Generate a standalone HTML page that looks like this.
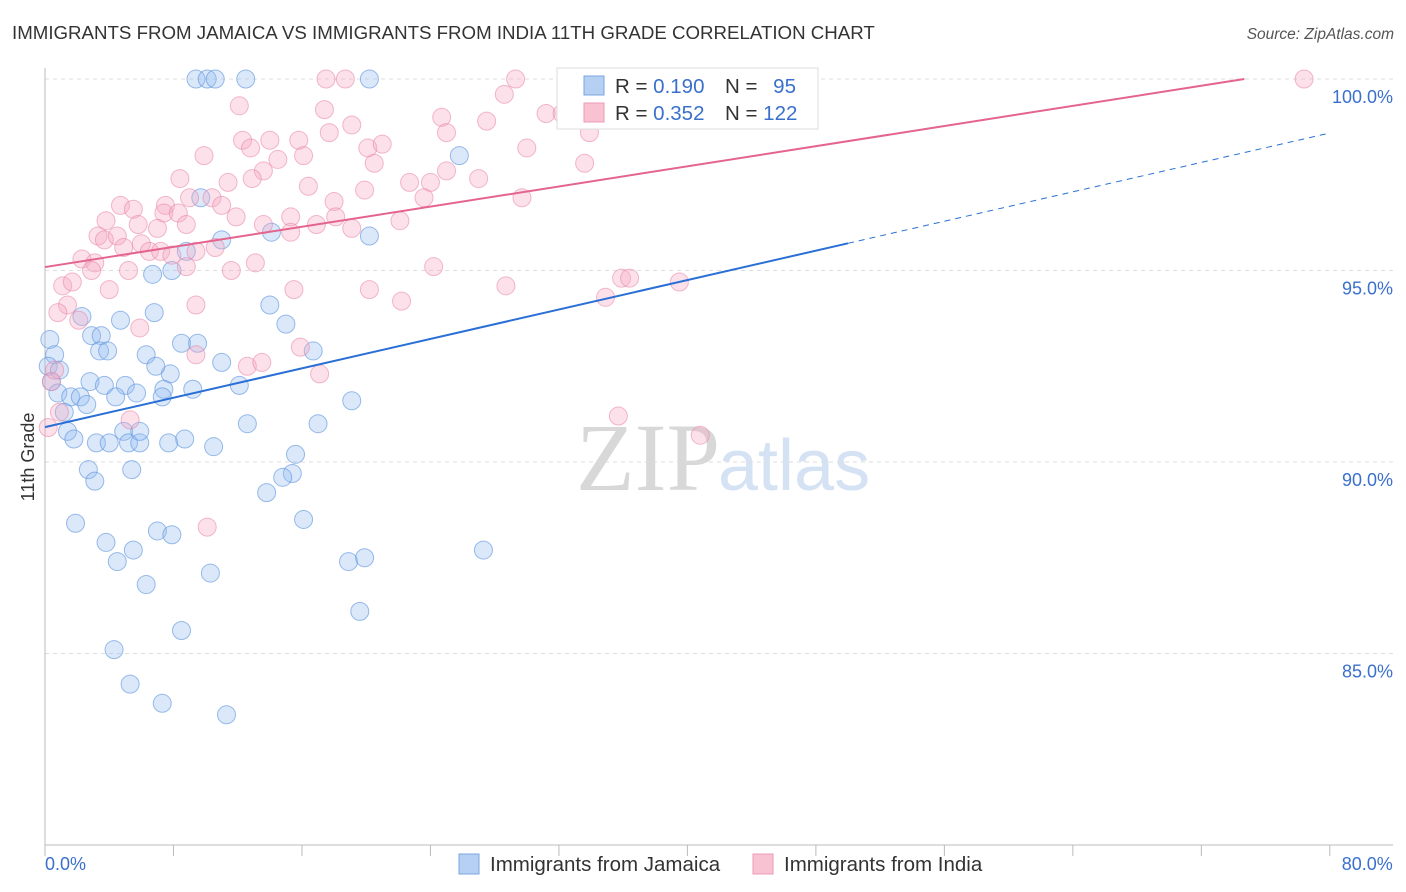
<!DOCTYPE html>
<html><head><meta charset="utf-8"><style>
body{margin:0;background:#fff;font-family:"Liberation Sans",sans-serif;}
svg{display:block}
</style></head><body>
<svg id="c" width="1406" height="892" xmlns="http://www.w3.org/2000/svg">
<text x="12" y="39" font-size="18.7" fill="#333">IMMIGRANTS FROM JAMAICA VS IMMIGRANTS FROM INDIA 11TH GRADE CORRELATION CHART</text>
<text x="1394" y="39" font-size="15.5" fill="#555" text-anchor="end" font-style="italic">Source: ZipAtlas.com</text>
<text x="720" y="490" font-size="96" fill="#d8d8d8" text-anchor="end" font-family="Liberation Serif,serif">ZIP</text>
<text x="718" y="490" font-size="72" fill="#d4e2f4">atlas</text>
<g id="grid"></g><g id="axes"></g><g id="pts"></g><g id="lines"></g>
<text x="34" y="457" font-size="18" fill="#333" text-anchor="middle" transform="rotate(-90 34 457)">11th Grade</text>
<g>
<rect x="557" y="68" width="261" height="61" fill="#fff" stroke="#ddd"/>
<rect x="584" y="76" width="20" height="19" fill="#b6d0f4" stroke="#7aa6e0"/>
<rect x="584" y="103" width="20" height="19" fill="#f8c2d2" stroke="#eb9ab4"/>
<text x="615" y="93" font-size="20.5" fill="#333">R = <tspan fill="#3a70cc">0.190</tspan></text>
<text x="725" y="93" font-size="20.5" fill="#333">N = <tspan fill="#3a70cc" dx="10">95</tspan></text>
<text x="615" y="120" font-size="20.5" fill="#333">R = <tspan fill="#3a70cc">0.352</tspan></text>
<text x="725" y="120" font-size="20.5" fill="#333">N = <tspan fill="#3a70cc">122</tspan></text>
</g>
<g>
<rect x="459" y="854" width="20" height="20" fill="#b6d0f4" stroke="#7aa6e0"/>
<text x="490" y="871" font-size="20.5" fill="#333">Immigrants from Jamaica</text>
<rect x="753" y="854" width="20" height="20" fill="#f8c2d2" stroke="#eb9ab4"/>
<text x="784" y="871" font-size="20.5" fill="#333">Immigrants from India</text>
</g>
</svg>
<script>
const blueX=[9.4,10.1,10.6,12.5,20.2,42.7,25.8,20.2,14.1,11.0,9.7,8.8,7.9,6.7,14.0,15.0,6.8,4.7,2.3,2.9,3.5,3.4,3.9,0.3,0.6,0.2,0.9,0.4,6.3,8.5,9.5,16.7,11.0,7.8,6.9,2.8,3.7,5.0,7.4,9.2,12.1,0.8,1.6,2.2,2.6,4.4,5.7,7.3,19.1,1.2,1.4,1.8,3.2,4.0,4.9,5.2,5.9,5.9,7.7,8.7,10.5,12.6,17.0,2.7,3.1,5.4,15.6,15.4,14.8,13.8,1.9,7.0,7.9,16.1,3.8,5.5,27.3,4.5,10.3,6.3,18.9,19.9,19.6,8.5,4.3,5.3,7.3,11.3];
const blueY=[100,100,100,100,100,100,98.0,95.9,96.0,95.8,96.9,95.5,95.0,94.9,94.1,93.6,93.9,93.7,93.8,93.3,93.3,92.9,92.9,93.2,92.8,92.5,92.4,92.1,92.8,93.1,93.1,92.9,92.6,92.3,92.5,92.1,92.0,92.0,91.9,91.9,92.0,91.8,91.7,91.7,91.5,91.7,91.8,91.7,91.6,91.3,90.8,90.6,90.5,90.5,90.8,90.5,90.5,90.8,90.5,90.6,90.4,91.0,91.0,89.8,89.5,89.8,90.2,89.7,89.6,89.2,88.4,88.2,88.1,88.5,87.9,87.7,87.7,87.4,87.1,86.8,87.4,87.5,86.1,85.6,85.1,84.2,83.7,83.4];
const pinkX=[17.5,18.7,29.3,78.4,28.6,31.2,32.2,17.4,12.1,24.7,36.8,27.5,19.1,17.7,25.0,33.9,12.3,14.0,15.8,12.8,20.1,21.0,30.0,9.9,14.5,16.1,20.5,33.6,13.6,12.9,8.4,25.0,24.0,22.7,27.0,11.4,16.4,19.9,9.0,10.4,18.0,29.7,23.6,4.7,5.5,7.5,7.4,8.3,11.0,11.9,15.3,22.1,3.8,5.8,7.0,8.8,13.6,15.3,16.9,18.1,19.1,3.3,3.7,4.5,6.0,4.9,6.5,7.2,7.9,9.4,10.6,2.3,3.1,2.9,5.2,8.8,11.6,13.1,24.2,1.1,1.7,4.0,9.4,15.5,20.2,22.2,28.7,34.9,35.9,36.4,39.5,1.4,0.8,2.1,5.9,9.4,15.9,12.6,13.5,17.1,0.4,0.6,0.2,0.9,5.3,35.7,40.8,10.1];
const pinkY=[100,100,100,100,99.6,99.1,99.1,99.2,99.3,99.0,99.0,98.9,98.8,98.6,98.6,98.6,98.4,98.4,98.4,98.2,98.2,98.3,98.2,98.0,97.9,98.0,97.8,97.8,97.6,97.4,97.4,97.6,97.3,97.3,97.4,97.3,97.2,97.1,96.9,96.9,96.8,96.9,96.9,96.7,96.6,96.7,96.5,96.5,96.7,96.4,96.4,96.3,96.3,96.2,96.1,96.2,96.2,96.0,96.2,96.4,96.1,95.9,95.8,95.9,95.7,95.6,95.5,95.5,95.4,95.5,95.6,95.3,95.2,95.0,95.0,95.1,95.0,95.2,95.1,94.6,94.7,94.5,94.1,94.5,94.5,94.2,94.6,94.3,94.8,94.8,94.7,94.1,93.9,93.7,93.5,92.8,93.0,92.5,92.6,92.3,92.1,92.4,90.9,91.3,91.1,91.2,90.7,88.3];
const yTicks=[100,95,90,85];
const yTickLabels=["100.0%","95.0%","90.0%","85.0%"];
const xEnds=[0,80];
const xEndLabels=["0.0%","80.0%"];
const blueTrend=[90.91,98.59];
const pinkTrend=[95.09,100.35];
const blueSolidEnd=50;

const NS="http://www.w3.org/2000/svg";
const X=v=>45+v*16.06;
const Y=v=>79+(100-v)*38.3;
function mk(tag,attrs,parent){const e=document.createElementNS(NS,tag);for(const k in attrs)e.setAttribute(k,attrs[k]);document.getElementById(parent).appendChild(e);return e;}

yTicks.forEach((t,i)=>{
  const g=mk('line',{x1:45,x2:1393,y1:Y(t),y2:Y(t),stroke:'#ddd','stroke-dasharray':'4,4'},'grid');
  
  
  const tx=mk('text',{x:1393,y:Y(t)+24,'font-size':18,fill:'#3a70cc','text-anchor':'end'},'grid');
  tx.textContent=yTickLabels[i];
  
  
});
const a1=mk('line',{x1:45,x2:45,y1:68,y2:845,stroke:'#bbb'},'axes');


const a2=mk('line',{x1:45,x2:1393,y1:845,y2:845,stroke:'#bbb'},'axes');


for(let v=0;v<=80;v+=8){
  const t=mk('line',{x1:X(v),x2:X(v),y1:845,y2:856,stroke:'#bbb'},'axes');
  
  
}
xEnds.forEach((v,i)=>{
  const t=mk('text',{x:i?X(v)+63:X(v),y:870,'font-size':18,fill:'#3a70cc','text-anchor':i?'end':'start'},'axes');
  t.textContent=xEndLabels[i];
  
  
});
blueX.forEach((v,i)=>{
  const c=mk('circle',{cx:X(v),cy:Y(blueY[i]),r:9,fill:'rgba(150,190,240,0.35)',stroke:'rgba(90,145,220,0.6)','stroke-width':1},'pts');
  
  
});
pinkX.forEach((v,i)=>{
  const c=mk('circle',{cx:X(v),cy:Y(pinkY[i]),r:9,fill:'rgba(245,170,195,0.35)',stroke:'rgba(232,130,165,0.55)','stroke-width':1},'pts');
  
  
});
const bAt=x=>blueTrend[0]+(blueTrend[1]-blueTrend[0])*x/80;
const l1=mk('line',{x1:X(0),y1:Y(bAt(0)),x2:X(blueSolidEnd),y2:Y(bAt(blueSolidEnd)),stroke:'#2a6fd6','stroke-width':2},'lines');


const l2=mk('line',{x1:X(blueSolidEnd),y1:Y(bAt(blueSolidEnd)),x2:X(80),y2:Y(bAt(80)),stroke:'#2a6fd6','stroke-width':1,'stroke-dasharray':'6,5'},'lines');


const pSlope=(pinkTrend[1]-pinkTrend[0])/80;
const pEnd=Math.min(80,(100-pinkTrend[0])/pSlope);
const l3=mk('line',{x1:X(0),y1:Y(pinkTrend[0]),x2:X(pEnd),y2:Y(pinkTrend[0]+pSlope*pEnd),stroke:'#e4648e','stroke-width':2},'lines');


</script>
</body></html>
